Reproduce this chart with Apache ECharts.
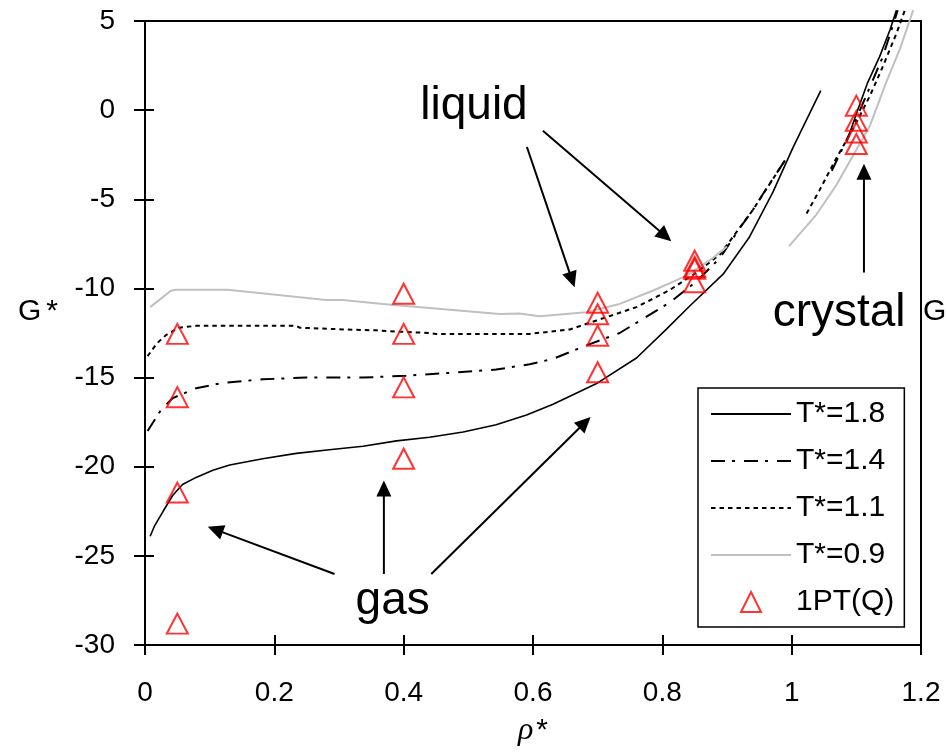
<!DOCTYPE html>
<html>
<head>
<meta charset="utf-8">
<script src="https://cdn.jsdelivr.net/npm/echarts@6/dist/echarts.min.js"></script>
<style>
  html, body { margin: 0; padding: 0; background: #fff; }
  #chart { width: 947px; height: 752px; }
</style>
</head>
<body>
<div id="chart"></div>
<script>
// Reduced Gibbs energy G* against reduced density rho* for four isotherms,
// fluid branch and crystal branch of each, plus 1PT(Q) estimates.

const seriesNames = ['T*=1.8', 'T*=1.4', 'T*=1.1', 'T*=0.9'];
const pointName = '1PT(Q)';

// T* = 1.8
const t18Fluid = [
  [0.008, -23.9], [0.015, -23.3], [0.028, -22.5], [0.043, -21.6], [0.058, -21.0],
  [0.079, -20.6], [0.105, -20.2], [0.131, -19.9], [0.182, -19.55], [0.234, -19.25],
  [0.285, -19.05], [0.337, -18.85], [0.389, -18.55], [0.44, -18.35], [0.492, -18.05],
  [0.543, -17.65], [0.59, -17.1], [0.631, -16.5], [0.7, -15.3], [0.76, -13.9],
  [0.806, -12.3], [0.842, -11.0], [0.894, -9.2], [0.935, -7.1], [0.971, -4.6],
  [1.002, -2.1], [1.045, 1.1]
];
const t18Crystal = [
  [1.085, -1.8], [1.1, -0.2], [1.117, 1.5], [1.136, 3.0], [1.152, 4.5], [1.162, 5.6]
];

// T* = 1.4
const t14Fluid = [
  [0.004, -18.0], [0.025, -16.8], [0.043, -16.15], [0.079, -15.6], [0.12, -15.3],
  [0.182, -15.1], [0.249, -15.0], [0.337, -15.0], [0.404, -14.9], [0.466, -14.75],
  [0.543, -14.55], [0.595, -14.25], [0.631, -13.95], [0.682, -13.2], [0.734, -12.5],
  [0.811, -10.8], [0.853, -9.6], [0.889, -8.3], [0.92, -6.6], [0.94, -5.6],
  [0.961, -4.4], [0.99, -2.8]
];
const t14Crystal = [
  [1.062, -3.4], [1.078, -2.2], [1.095, -0.9], [1.121, 1.3], [1.141, 3.0], [1.164, 5.6]
];

// T* = 1.1
const t11Fluid = [
  [0.004, -13.8], [0.018, -13.1], [0.033, -12.6], [0.053, -12.2], [0.079, -12.1],
  [0.234, -12.1], [0.239, -12.2], [0.306, -12.3], [0.358, -12.35], [0.378, -12.4],
  [0.44, -12.5], [0.45, -12.55], [0.595, -12.55], [0.657, -12.3], [0.698, -11.8],
  [0.76, -11.05], [0.811, -10.1], [0.853, -9.1], [0.889, -8.1], [0.94, -5.6],
  [0.99, -2.8]
];
const t11Crystal = [
  [1.023, -5.8], [1.043, -4.5], [1.069, -2.7], [1.095, -1.05], [1.121, 0.8],
  [1.141, 2.45], [1.162, 4.3], [1.175, 5.6]
];

// T* = 0.9
const t09Fluid = [
  [0.008, -11.05], [0.04, -10.13], [0.048, -10.07], [0.128, -10.07], [0.28, -10.65],
  [0.306, -10.65], [0.368, -10.87], [0.548, -11.43], [0.579, -11.4], [0.61, -11.56],
  [0.682, -11.33], [0.734, -10.87], [0.785, -10.13], [0.837, -9.3], [0.878, -8.3],
  [0.9, -7.65]
];
const t09Crystal = [
  [0.996, -7.63], [1.038, -5.87], [1.069, -4.21], [1.095, -2.54], [1.121, -0.87],
  [1.146, 1.54], [1.167, 3.39], [1.188, 5.61]
];

// 1PT(Q) estimates
const qPoints = [
  [0.05, -12.55], [0.05, -16.1], [0.05, -21.45], [0.05, -28.8],
  [0.4, -10.3], [0.4, -12.55], [0.4, -15.55], [0.4, -19.55],
  [0.7, -10.8], [0.7, -11.45], [0.7, -12.65], [0.7, -14.7],
  [0.85, -8.45], [0.85, -8.8], [0.85, -8.9], [0.85, -9.65],
  [1.1, 0.25], [1.1, -0.6], [1.1, -1.25], [1.1, -1.9]
];

// Axis ranges
const xRange = { min: 0, max: 1.2, step: 0.2 };
const yRange = { min: -30, max: 5, step: 5 };

// Phase annotations: arrows (tail -> head) and word anchors (left, baseline), in data units
const arrowPaths = [
  [[0.5906, -2.07], [0.6643, -9.94]],
  [[0.6153, -1.15], [0.8139, -7.35]],
  [[1.1118, -9.11], [1.1118, -3.0]],
  [[0.2931, -26.02], [0.0971, -23.37]],
  [[0.3694, -26.02], [0.3694, -20.78]],
  [[0.4427, -26.02], [0.6891, -17.21]]
];
const phaseWords = [
  { text: 'liquid', at: [0.4257, -0.68] },
  { text: 'gas', at: [0.3256, -28.46] },
  { text: 'crystal', at: [0.9706, -12.28] }
];

const FONT = 'Liberation Sans, Arial, sans-serif';
const GAP = [['-', '-']];

function curve(name, fluid, crystal, color, width, dash) {
  return {
    type: 'line',
    name: name,
    data: fluid.concat(GAP, crystal),
    symbol: 'none',
    showSymbol: false,
    connectNulls: false,
    clip: false,
    color: color,
    lineStyle: { color: color, width: width, type: dash },
    emphasis: { disabled: true },
    silent: true,
    z: 2
  };
}

function valueAxis(r, extra) {
  return Object.assign({
    type: 'value',
    min: r.min,
    max: r.max,
    interval: r.step,
    splitLine: { show: false }
  }, extra);
}

const chart = echarts.init(document.getElementById('chart'), null, { renderer: 'canvas' });

// legend entries: plain line keys for the isotherms, an upright triangle for the points
const legendEntries = seriesNames.map(function (n) {
  return { name: n, itemStyle: { opacity: 0 } };
}).concat([{ name: pointName, icon: 'path://M10,0L20,20L0,20Z' }]);

const option = {
  animation: false,
  backgroundColor: '#fff',
  grid: {
    left: 145, right: 26, top: 21, bottom: 101,
    show: true, borderColor: '#000', borderWidth: 2, backgroundColor: 'transparent'
  },
  xAxis: [
    valueAxis(xRange, {
      name: '{r|ρ}{s|*}',
      nameLocation: 'middle',
      nameGap: 70,
      nameTextStyle: {
        rich: {
          r: { fontFamily: 'Liberation Serif, serif', fontStyle: 'italic', fontSize: 32, color: '#000' },
          s: { fontFamily: FONT, fontSize: 30, color: '#000', padding: [0, 0, 0, 3] }
        }
      },
      axisLine: { onZero: false, lineStyle: { color: '#000', width: 2 } },
      axisTick: { inside: false, length: 10, lineStyle: { color: '#000', width: 2 } },
      axisLabel: { margin: 34, color: '#000', fontFamily: FONT, fontSize: 28 }
    }),
    valueAxis(xRange, {
      position: 'bottom',
      axisLine: { show: false, onZero: false },
      axisTick: { inside: true, length: 10, lineStyle: { color: '#000', width: 2 } },
      axisLabel: { show: false }
    })
  ],
  yAxis: [
    valueAxis(yRange, {
      axisLine: { onZero: false, lineStyle: { color: '#000', width: 2 } },
      axisTick: { inside: false, length: 11, lineStyle: { color: '#000', width: 2 } },
      axisLabel: { margin: 30, color: '#000', fontFamily: FONT, fontSize: 28 }
    }),
    valueAxis(yRange, {
      position: 'left',
      axisLine: { show: false, onZero: false },
      axisTick: { inside: true, length: 9, lineStyle: { color: '#000', width: 2 } },
      axisLabel: { show: false }
    })
  ],
  legend: {
    orient: 'vertical',
    left: 698,
    top: 388,
    padding: [11, 10, 10, 12],
    itemWidth: 80,
    itemHeight: 20,
    itemGap: 17,
    itemTextGap: 8,
    align: 'left',
    symbolKeepAspect: true,
    backgroundColor: '#fff',
    borderColor: '#000',
    borderWidth: 1.5,
    borderRadius: 0,
    selectedMode: false,
    textStyle: { fontFamily: FONT, fontSize: 30, lineHeight: 30, color: '#000' },
    data: legendEntries
  },
  series: [
    curve(seriesNames[0], t18Fluid, t18Crystal, '#000000', 1.6, 'solid'),
    curve(seriesNames[1], t14Fluid, t14Crystal, '#000000', 2, [14, 7, 3, 9]),
    curve(seriesNames[2], t11Fluid, t11Crystal, '#000000', 2, [4.5, 4]),
    curve(seriesNames[3], t09Fluid, t09Crystal, '#c0c0c0', 2, 'solid'),
    {
      type: 'scatter',
      name: pointName,
      data: qPoints,
      symbol: 'triangle',
      symbolSize: [21, 20],
      clip: false,
      color: '#ff0000',
      itemStyle: { color: 'rgba(255,255,255,0)', borderColor: '#ff0000', borderWidth: 2 },
      emphasis: { disabled: true },
      silent: true,
      z: 3
    }
  ]
};

chart.setOption(option);

// Annotation layer: arrows, phase words and the vertical axis titles
function toPx(p) {
  return chart.convertToPixel({ xAxisIndex: 0, yAxisIndex: 0 }, p);
}

const graphics = [];
arrowPaths.forEach(function (seg) {
  const a = toPx(seg[0]);
  const b = toPx(seg[1]);
  const dx = b[0] - a[0], dy = b[1] - a[1];
  const len = Math.hypot(dx, dy);
  const ux = dx / len, uy = dy / len;
  const headLen = 16, headHalf = 7.5;
  const base = [b[0] - ux * headLen, b[1] - uy * headLen];
  graphics.push({
    type: 'line', silent: true, z: 10,
    shape: { x1: a[0], y1: a[1], x2: base[0] + ux * 2, y2: base[1] + uy * 2 },
    style: { stroke: '#000', lineWidth: 2 }
  });
  graphics.push({
    type: 'polygon', silent: true, z: 10,
    shape: { points: [b, [base[0] - uy * headHalf, base[1] + ux * headHalf], [base[0] + uy * headHalf, base[1] - ux * headHalf]] },
    style: { fill: '#000' }
  });
});

const wordSize = 46;
phaseWords.forEach(function (w) {
  const p = toPx(w.at);
  graphics.push({
    type: 'text', silent: true, z: 10,
    x: p[0], y: p[1] - 0.3465 * wordSize,
    style: { text: w.text, fontFamily: FONT, fontSize: wordSize, fill: '#000', align: 'left', verticalAlign: 'middle' }
  });
});

// G* titles, left and (cut off) right
const titleSize = 30;
[18, 923].forEach(function (left) {
  graphics.push({
    type: 'text', silent: true, z: 10,
    x: left, y: 322 - 0.3465 * titleSize,
    style: {
      text: '{g|G}{s|*}',
      align: 'left', verticalAlign: 'middle',
      rich: {
        g: { fontFamily: FONT, fontSize: titleSize, fill: '#000' },
        s: { fontFamily: FONT, fontSize: titleSize, fill: '#000', padding: [0, 0, 0, 5] }
      }
    }
  });
});

chart.setOption({ graphic: graphics });
</script>
</body>
</html>
